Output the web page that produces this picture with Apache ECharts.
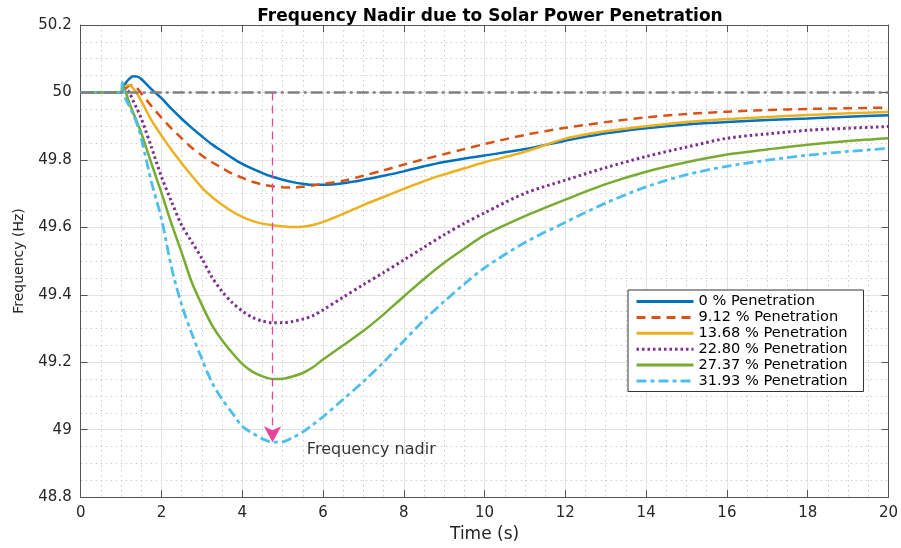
<!DOCTYPE html>
<html>
<head>
<meta charset="utf-8">
<script src="https://cdn.jsdelivr.net/npm/echarts@6/dist/echarts.min.js"></script>
<style>
  html, body { margin: 0; padding: 0; background: #ffffff; }
  #chart { width: 901px; height: 548px; }
</style>
</head>
<body>
<div id="chart"></div>
<script>
// Simulation time (s), shared by every response curve
const timeS = [0, 1, 1.03, 1.1, 1.2, 1.3, 1.4, 1.5, 1.75, 2, 2.25, 2.5, 2.75, 3, 3.25, 3.5, 3.75, 4,
  4.25, 4.5, 4.75, 5, 5.25, 5.5, 5.75, 6, 6.5, 7, 7.5, 8, 8.5, 9, 9.5, 10,
  11, 12, 13, 14, 15, 16, 17, 18, 19, 20];

// Grid frequency (Hz) for each level of solar penetration
const pen0 = [50, 50, 50.008, 50.025, 50.04, 50.048, 50.047, 50.04, 50.01, 49.983, 49.951, 49.922, 49.895, 49.87, 49.846, 49.826, 49.806, 49.788,
  49.774, 49.761, 49.75, 49.741, 49.734, 49.729, 49.726, 49.726, 49.731, 49.741, 49.753, 49.766, 49.781, 49.794, 49.804, 49.813,
  49.832, 49.857, 49.879, 49.894, 49.905, 49.912, 49.918, 49.923, 49.928, 49.932];
const pen912 = [50, 50, 50.003, 50.01, 50.02, 50.022, 50.012, 49.997, 49.96, 49.925, 49.893, 49.864, 49.836, 49.813, 49.793, 49.776, 49.759, 49.747,
  49.735, 49.727, 49.722, 49.719, 49.718, 49.72, 49.724, 49.729, 49.738, 49.753, 49.769, 49.786, 49.802, 49.817, 49.832, 49.847,
  49.874, 49.895, 49.912, 49.926, 49.936, 49.943, 49.948, 49.951, 49.953, 49.955];
const pen1368 = [50, 50, 50.005, 50.018, 50.022, 50.012, 49.995, 49.975, 49.918, 49.872, 49.829, 49.79, 49.753, 49.718, 49.69, 49.667, 49.647, 49.631,
  49.619, 49.611, 49.606, 49.603, 49.601, 49.602, 49.607, 49.616, 49.64, 49.666, 49.69, 49.714, 49.737, 49.757, 49.775, 49.793,
  49.824, 49.863, 49.885, 49.9, 49.912, 49.921, 49.927, 49.933, 49.938, 49.942];
const pen2280 = [50, 50, 50.005, 50.012, 50.0, 49.975, 49.95, 49.923, 49.838, 49.75, 49.676, 49.606, 49.557, 49.508, 49.452, 49.41, 49.377, 49.352,
  49.333, 49.322, 49.317, 49.317, 49.321, 49.328, 49.338, 49.355, 49.393, 49.43, 49.466, 49.503, 49.541, 49.578, 49.612, 49.643,
  49.701, 49.74, 49.777, 49.81, 49.838, 49.864, 49.877, 49.888, 49.894, 49.899];
const pen2737 = [50, 50, 50.015, 50.005, 49.97, 49.94, 49.91, 49.88, 49.79, 49.702, 49.61, 49.525, 49.437, 49.37, 49.31, 49.265, 49.228, 49.195,
  49.172, 49.158, 49.15, 49.151, 49.158, 49.168, 49.185, 49.208, 49.25, 49.293, 49.342, 49.395, 49.447, 49.495, 49.537, 49.577,
  49.633, 49.682, 49.728, 49.765, 49.793, 49.816, 49.831, 49.845, 49.856, 49.864];
const pen3193 = [50, 50, 50.03, 49.985, 49.96, 49.935, 49.905, 49.865, 49.735, 49.625, 49.48, 49.37, 49.285, 49.21, 49.14, 49.09, 49.05, 49.01,
  48.99, 48.973, 48.963, 48.964, 48.977, 48.993, 49.015, 49.038, 49.09, 49.143, 49.2, 49.263, 49.325, 49.38, 49.432, 49.48,
  49.555, 49.615, 49.672, 49.72, 49.756, 49.781, 49.799, 49.814, 49.825, 49.834];

const seriesNames = ['0 % Penetration', '9.12 % Penetration', '13.68 % Penetration',
  '22.80 % Penetration', '27.37 % Penetration', '31.93 % Penetration'];

// Nominal frequency reference
const refTime = [0, 20];
const refFreq = [50, 50];

// Nadir annotation
const nadirTime = 4.75;
const nadirFrom = 50;
const nadirTo = 48.963;
const nadirLabelAt = [5.6, 48.94];
const nadirLabel = 'Frequency nadir';

// Axis ticks
const xTicks = { min: 0, max: 20, step: 2 };
const yTicks = { min: 48.8, max: 50.2, step: 0.2 };

const FONT = '"DejaVu Sans", "Liberation Sans", sans-serif';
const AXIS_COLOR = '#555555';

const zip = (xs, ys) => xs.map((x, i) => [x, ys[i]]);

const styles = [
  { color: '#0072BD', type: 'solid', width: 2.5 },
  { color: '#D95319', type: [9, 6], width: 2.5 },
  { color: '#EDB120', type: 'solid', width: 2.5 },
  { color: '#7E2F8E', type: [2.5, 3], width: 3 },
  { color: '#77AC30', type: 'solid', width: 2.5 },
  { color: '#4DBEEE', type: [10, 4, 4, 4], width: 2.8 }
];
const values = [pen0, pen912, pen1368, pen2280, pen2737, pen3193];

const curveSeries = values.map((vals, i) => ({
  name: seriesNames[i],
  type: 'line',
  data: zip(timeS, vals),
  symbol: 'none',
  showSymbol: false,
  smooth: 0.3,
  lineStyle: { color: styles[i].color, type: styles[i].type, width: styles[i].width, cap: 'butt' },
  itemStyle: { color: styles[i].color, opacity: 0 },
  z: 3
}));

const baseAxis = {
  axisLine: { show: true, onZero: false, lineStyle: { color: AXIS_COLOR, width: 1 } },
  axisTick: { show: true, inside: true, length: 7, lineStyle: { color: AXIS_COLOR, width: 1 } }
};

const chart = echarts.init(document.getElementById('chart'), null, { renderer: 'canvas' });

chart.setOption({
  animation: false,
  backgroundColor: '#ffffff',
  title: {
    text: 'Frequency Nadir due to Solar Power Penetration',
    left: 485,
    textAlign: 'center',
    top: 3,
    textStyle: { fontFamily: FONT, fontWeight: 'bold', fontSize: 17, color: '#000000' }
  },
  grid: { left: 80.7, right: 10.3, top: 25, bottom: 48, containLabel: false },
  legend: {
    data: seriesNames,
    orient: 'vertical',
    left: 628,
    top: 290,
    padding: [4, 16, 3, 7],
    itemWidth: 57,
    itemHeight: 14,
    itemGap: 0.9,
    itemStyle: { opacity: 0 },
    lineStyle: { width: 3 },
    backgroundColor: '#ffffff',
    borderColor: '#333333',
    borderWidth: 1,
    borderRadius: 0,
    textStyle: { fontFamily: FONT, fontSize: 14.6, color: '#000000' }
  },
  xAxis: [
    Object.assign({}, baseAxis, {
      type: 'value',
      min: xTicks.min, max: xTicks.max, interval: xTicks.step,
      name: 'Time (s)',
      nameLocation: 'middle',
      nameGap: 24,
      nameTextStyle: { fontFamily: FONT, fontSize: 17, color: '#262626' },
      axisLabel: { fontFamily: FONT, fontSize: 15, color: '#262626', margin: 9 },
      splitLine: { show: true, lineStyle: { color: '#e3e3e3', width: 1 } },
      minorTick: { show: false, splitNumber: 4 },
      minorSplitLine: { show: true, lineStyle: { color: '#cccccc', width: 1, type: [1.5, 3.5] } }
    }),
    Object.assign({}, baseAxis, {
      type: 'value', position: 'top',
      min: xTicks.min, max: xTicks.max, interval: xTicks.step,
      axisLabel: { show: false },
      splitLine: { show: false }
    })
  ],
  yAxis: [
    Object.assign({}, baseAxis, {
      type: 'value',
      min: yTicks.min, max: yTicks.max, interval: yTicks.step,
      name: 'Frequency (Hz)',
      nameLocation: 'middle',
      nameGap: 54,
      nameRotate: 90,
      nameTextStyle: { fontFamily: FONT, fontSize: 14, color: '#262626' },
      axisLabel: { fontFamily: FONT, fontSize: 15, color: '#262626', margin: 9 },
      splitLine: { show: true, lineStyle: { color: '#e3e3e3', width: 1 } },
      minorTick: { show: false, splitNumber: 4 },
      minorSplitLine: { show: true, lineStyle: { color: '#cccccc', width: 1, type: [1.5, 3.5] } }
    }),
    Object.assign({}, baseAxis, {
      type: 'value', position: 'right',
      min: yTicks.min, max: yTicks.max, interval: yTicks.step,
      axisLabel: { show: false },
      splitLine: { show: false }
    })
  ],
  series: curveSeries.concat([
    {
      name: 'Nominal',
      type: 'line',
      data: zip(refTime, refFreq),
      symbol: 'none',
      lineStyle: { color: '#808080', width: 2.5, type: [12, 4, 3, 4] },
      z: 4,
      markLine: {
        silent: true,
        symbol: ['none', 'arrow'],
        symbolSize: [13, 16],
        label: { show: false },
        lineStyle: { color: '#e8449c', width: 1.3, type: [8, 5] },
        data: [[{ coord: [nadirTime, nadirFrom] }, { coord: [nadirTime, nadirTo] }]]
      }
    },
    {
      name: 'Nadir label',
      type: 'scatter',
      data: [nadirLabelAt],
      symbolSize: 0,
      silent: true,
      label: {
        show: true,
        position: 'right',
        distance: 0,
        formatter: nadirLabel,
        fontFamily: FONT,
        fontSize: 16,
        color: '#000000'
      },
      z: 5
    }
  ])
});
</script>
</body>
</html>
